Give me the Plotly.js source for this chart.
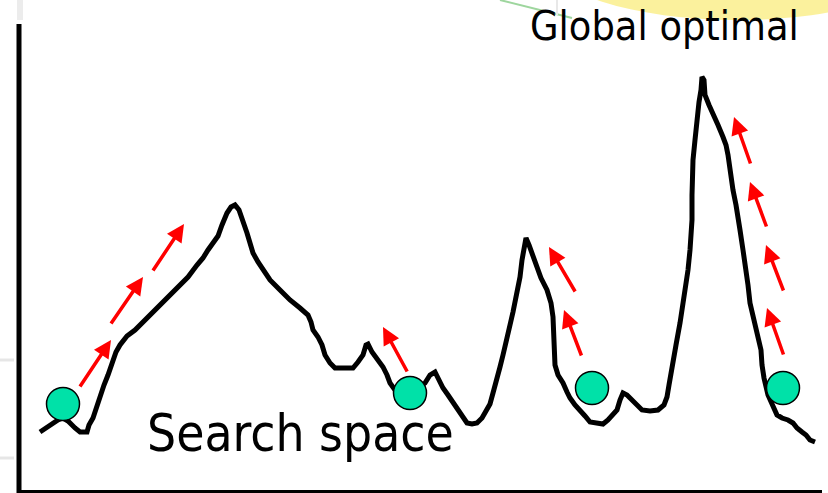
<!DOCTYPE html>
<html><head><meta charset="utf-8">
<script src="https://cdn.plot.ly/plotly-3.0.1.min.js"></script>
<style>html,body{margin:0;padding:0;background:#fff;}#chart{width:828px;height:493px;}</style>
</head><body><div id="chart"></div>
<script>
// Fitness landscape (x = position in search space, y = fitness)
const landscapeX = [40,50,58,63,68,75,80,87,89,93,97,100,104,108,112,116,120,127,135,142,150,158,165,172,180,188,197,203,208,213,218,222,227,231,235,239,243,247,250,253,258,263,270,280,290,300,308,311,313,318,322,325,330,335,343,353,358,363,366,368,372,378,383,387,390,395,400,410,425,430,435,438,443,448,453,458,463,467,472,477,482,487,490,493,497,500,503,507,510,513,517,520,522,524,526,529,532,537,541,547,551,553,554,555,558,563,567,570,575,580,585,590,597,603,608,613,617,620,623,627,631,636,642,650,658,664,667,669,671,673,676,680,683,686,688,690,692,692,693,695,697,699,701,702,704,705,709,713,718,723,726,728,730,733,736,738,740,743,746,748,750,754,758,761,762,764,768,772,777,782,788,793,797,802,806,810,815];
const landscapeY = [61,68,73,75,72,65,61,61,68,75,88,95,108,118,131,141,148,157,163,170,178,186,193,201,208,216,228,235,243,250,257,268,280,286,288,283,273,260,250,240,231,223,213,203,193,185,178,171,163,156,148,138,130,125,125,125,131,138,148,149,141,133,126,118,110,103,99,100,110,118,121,115,105,98,91,83,75,70,69,70,75,83,89,100,113,126,138,153,168,181,198,216,233,246,255,248,239,226,215,203,190,176,153,128,118,110,101,95,88,83,77,71,70,69,73,78,83,93,100,98,94,89,83,82,83,88,96,108,121,133,148,170,188,208,223,243,273,298,333,353,378,391,403,416,413,398,388,380,368,356,348,338,323,303,288,278,263,243,225,208,190,173,158,143,128,115,98,88,78,75,73,70,65,61,58,53,51];

// Search agents (balls)
const agentX = [63,410,592,783];
const agentY = [89,100,105,105];

// Hill-climbing moves: tail -> tip
const moveFromX = [79,110,152,408,576,582,751,767,784,784];
const moveFromY = [105,168,221,120,200,136,328,265,201,137];
const moveToX   = [111,143,184,383,549,564,734,750,766,767];
const moveToY   = [153,216,269,166,246,183,376,311,248,185];

const labels = {global: 'Global optimal', space: 'Search space'};

const FONT = '"DejaVu Sans Condensed", "DejaVu Sans", "Liberation Sans", sans-serif';

const traces = [
  {x: landscapeX, y: landscapeY, mode: 'lines', type: 'scatter',
   line: {color: '#000', width: 5, shape: 'linear'}, hoverinfo: 'skip'},
  {x: agentX, y: agentY, mode: 'markers', type: 'scatter',
   marker: {size: 33, color: '#00e1a8', line: {color: '#000', width: 1.5}}, hoverinfo: 'skip'}
];

const annotations = moveFromX.map((fx, i) => ({
  x: moveToX[i], y: moveToY[i], ax: fx, ay: moveFromY[i],
  xref: 'x', yref: 'y', axref: 'x', ayref: 'y',
  text: '', showarrow: true, arrowhead: 2, arrowsize: 1, arrowwidth: 3.5,
  arrowcolor: '#ff0000', standoff: 0, startstandoff: 0
}));
annotations.push({x: 664, y: 467, xref: 'x', yref: 'y', text: labels.global, showarrow: false,
  xanchor: 'center', yanchor: 'middle', font: {family: FONT, size: 41, color: '#000'}});
annotations.push({x: 300, y: 60, xref: 'x', yref: 'y', text: labels.space, showarrow: false,
  xanchor: 'center', yanchor: 'middle', font: {family: FONT, size: 51, color: '#000'}});

const shapes = [
  // soft yellow glow top right
  {type: 'circle', xref: 'x', yref: 'y', x0: 545, x1: 930, y0: 473, y1: 600,
   fillcolor: 'rgba(250,238,140,0.85)', line: {width: 0}, layer: 'below'},
  // faint green line top
  {type: 'line', xref: 'x', yref: 'y', x0: 500, y0: 493, x1: 572, y1: 475,
   line: {color: '#9ed69e', width: 2}, layer: 'below'},
  {type: 'line', xref: 'x', yref: 'y', x0: 557, y0: 493, x1: 557, y1: 478,
   line: {color: '#e8e8e8', width: 2}, layer: 'below'},
  // faint slide remnants at left
  {type: 'rect', xref: 'x', yref: 'y', x0: 17, x1: 23, y0: 473, y1: 493,
   fillcolor: '#ececec', line: {width: 0}, layer: 'below'},
  {type: 'line', xref: 'x', yref: 'y', x0: 0, x1: 14, y0: 133, y1: 133,
   line: {color: '#e6e6e6', width: 3}, layer: 'below'},
  {type: 'line', xref: 'x', yref: 'y', x0: 0, x1: 14, y0: 35, y1: 35,
   line: {color: '#e6e6e6', width: 3}, layer: 'below'},
  // axes
  {type: 'line', xref: 'x', yref: 'y', x0: 19, x1: 19, y0: 469, y1: 0,
   line: {color: '#000', width: 5}},
  {type: 'line', xref: 'x', yref: 'y', x0: 17, x1: 822, y0: 1.5, y1: 1.5,
   line: {color: '#000', width: 3}}
];

const layout = {
  width: 828, height: 493,
  margin: {l: 0, r: 0, t: 0, b: 0, pad: 0},
  paper_bgcolor: '#fff', plot_bgcolor: '#fff',
  showlegend: false,
  xaxis: {range: [0, 828], visible: false, fixedrange: true},
  yaxis: {range: [0, 493], visible: false, fixedrange: true},
  shapes: shapes, annotations: annotations
};

Plotly.newPlot('chart', traces, layout, {staticPlot: true, displayModeBar: false});
</script></body></html>
